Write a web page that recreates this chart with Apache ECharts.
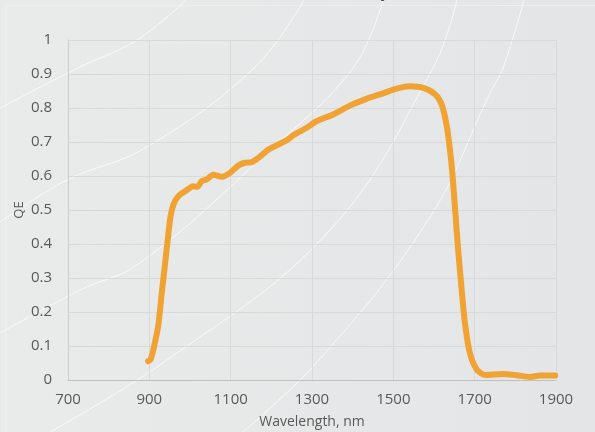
<!DOCTYPE html>
<html><head><meta charset="utf-8">
<script src="https://cdn.jsdelivr.net/npm/echarts@6/dist/echarts.min.js"></script>
<style>html,body{margin:0;padding:0;}#c{width:595px;height:432px;}</style>
</head><body><div id="c"></div>
<script>
const titleText = 'Quantum Efficiency (QE)';
const xName = 'Wavelength, nm';
const yName = 'QE';
const wavelength = [897,903,910,922,930,938,945,952,959,971,988,1008,1018,1029,1041,1057,1078,1098,1119,1135,1152,1168,1193,1213,1238,1254,1287,1311,1352,1393,1434,1475,1508,1541,1574,1603,1619,1631,1639,1645,1652,1660,1668,1676,1688,1705,1725,1770,1803,1836,1861,1898];
const qe = [0.055,0.06,0.09,0.16,0.25,0.335,0.41,0.48,0.515,0.54,0.555,0.57,0.568,0.585,0.59,0.604,0.598,0.609,0.631,0.639,0.641,0.653,0.678,0.69,0.705,0.72,0.742,0.761,0.781,0.807,0.827,0.843,0.857,0.864,0.859,0.84,0.81,0.75,0.68,0.61,0.50,0.374,0.266,0.168,0.08,0.031,0.015,0.018,0.014,0.009,0.013,0.013];

const font = 'Open Sans';
const labelColor = '#595959';
const arcs = [
  [[0,108],[80,67],[137,40],[186,0]],
  [[0,222],[67,180],[145,148],[254,68],[304,0]],
  [[0,333],[80,290],[140,263],[270,150],[353,68],[383,0]],
  [[32,442],[167,360],[330,230],[433,68],[457,0]],
  [[231,442],[319,360],[430,217],[490,93],[503,68],[524,0]]
];
const chart = echarts.init(document.getElementById('c'), null, {renderer:'canvas'});
const graphics = [
  {type:'rect', z:-20, silent:true, shape:{x:0,y:0,width:595,height:432},
   style:{fill:new echarts.graphic.LinearGradient(0,0,1,0,[{offset:0,color:'#e9eaea'},{offset:1,color:'#e4e5e6'}])}},
  {type:'rect', z:-19, silent:true, shape:{x:5.5,y:5.5,width:600,height:440},
   style:{fill:'none', stroke:'#efefef', lineWidth:1}}
];
arcs.forEach(p => graphics.push({type:'polyline', z:-18, silent:true, shape:{points:p, smooth:0.4},
  style:{stroke:'rgba(255,255,255,0.75)', lineWidth:1, fill:'none'}}));
graphics.push({type:'text', z:5, silent:true, style:{text:titleText, x:424, y:0, align:'right', verticalAlign:'bottom',
  font:'16px "Open Sans"', fill:'#404040'}});

chart.setOption({
  animation:false,
  backgroundColor:'#e7e8e8',
  graphic: graphics,
  grid:{left:68, right:39, top:40, bottom:52, containLabel:false, outerBoundsMode:'none'},
  xAxis:{type:'value', min:700, max:1900, interval:200,
    name:xName, nameLocation:'middle', nameGap:35,
    nameTextStyle:{color:labelColor, fontFamily:font, fontSize:14},
    axisLine:{show:true, lineStyle:{color:'#bfbfbf', width:1}},
    axisTick:{show:false},
    axisLabel:{color:labelColor, fontFamily:font, fontSize:15, margin:12,
      formatter: v => String(v)},
    splitLine:{show:true, lineStyle:{color:'#d9d9d9', width:1}}},
  yAxis:{type:'value', min:0, max:1, interval:0.1,
    name:yName, nameLocation:'middle', nameGap:42, nameRotate:90, nameMoveOverlap:false,
    nameTextStyle:{color:labelColor, fontFamily:font, fontSize:13},
    axisLine:{show:true, lineStyle:{color:'#cccccc', width:1}},
    axisTick:{show:false},
    axisLabel:{color:labelColor, fontFamily:font, fontSize:15, margin:16,
      formatter: v => String(Math.round(v*10)/10)},
    splitLine:{show:true, lineStyle:{color:'#d9d9d9', width:1}}},
  series:[{type:'line', data: wavelength.map((w,i)=>[w, qe[i]]),
    showSymbol:false, smooth:0.25,
    lineStyle:{color:'#f0a232', width:6, cap:'round', join:'round'}, z:3}]
});
</script></body></html>
